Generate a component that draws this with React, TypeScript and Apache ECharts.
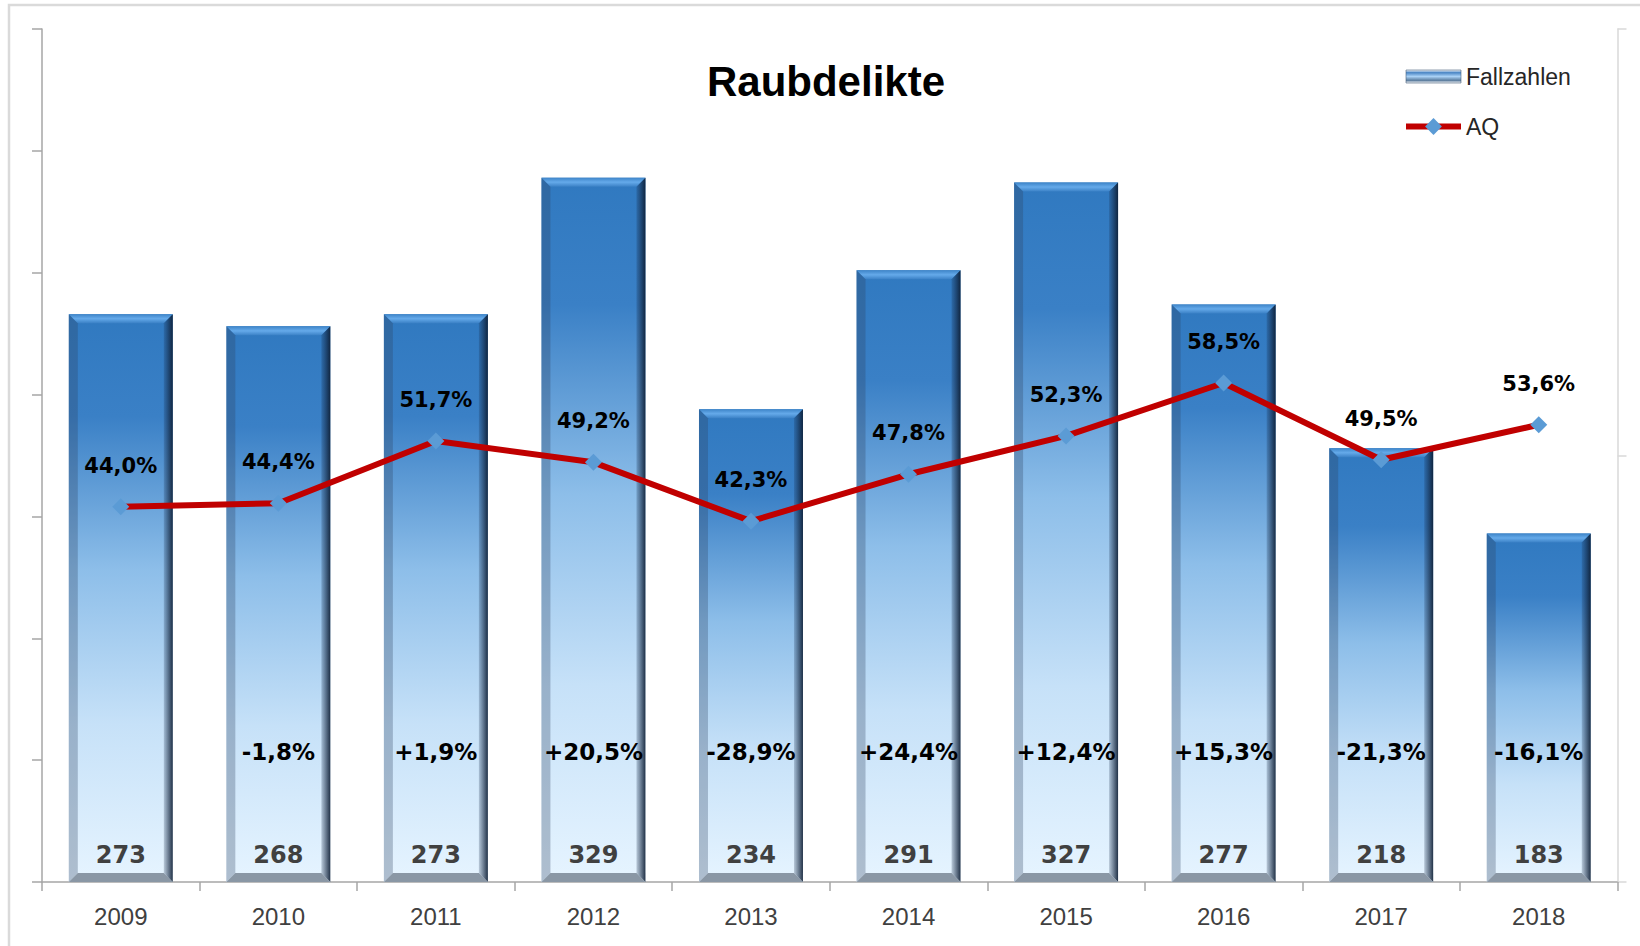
import React, { useEffect, useRef } from 'react';
import * as echarts from 'echarts';

const chartTitle = 'Raubdelikte';
const years = ['2009', '2010', '2011', '2012', '2013', '2014', '2015', '2016', '2017', '2018'];
const fallzahlen = [273, 268, 273, 329, 234, 291, 327, 277, 218, 183];
const aqPercent = [44.0, 44.4, 51.7, 49.2, 42.3, 47.8, 52.3, 58.5, 49.5, 53.6];
const changeLabels = ['', '-1,8%', '+1,9%', '+20,5%', '-28,9%', '+24,4%', '+12,4%', '+15,3%', '-21,3%', '-16,1%'];
const seriesNames = ['Fallzahlen', 'AQ'];

const fmtPct = (v: number) => v.toFixed(1).replace('.', ',') + '%';

const renderBar = (params: any, api: any) => {
  const i = api.value(0);
  const v = api.value(1);
  const p = api.coord([i, v]);
  const band = api.size([1, 0])[0];
  const w = band * 0.66;
  const cx = p[0];
  const x0 = cx - w / 2;
  const x1 = cx + w / 2;
  const yt = p[1];
  const yb = params.coordSys.y + params.coordSys.height;
  const h = yb - yt;
  const b = 9;
  const G = echarts.graphic.LinearGradient;
  return {
    type: 'group',
    children: [
      {
        type: 'rect',
        shape: { x: x0, y: yt, width: w, height: h },
        style: {
          fill: new G(0, 0, 0, 1, [
            { offset: 0, color: '#3079c0' },
            { offset: 0.18, color: '#3a80c6' },
            { offset: 0.45, color: '#8dbee9' },
            { offset: 0.72, color: '#c6e1f8' },
            { offset: 1, color: '#e6f4ff' },
          ]),
        },
      },
      {
        type: 'polygon',
        shape: { points: [[x0, yt], [x1, yt], [x1 - b, yt + b], [x0 + b, yt + b]] },
        style: {
          fill: new G(0, 0, 0, 1, [
            { offset: 0, color: '#3d84c8' },
            { offset: 0.5, color: '#65aaea' },
            { offset: 1, color: '#3b81c6' },
          ]),
        },
      },
      {
        type: 'polygon',
        shape: { points: [[x0, yt], [x0 + b, yt + b], [x0 + b, yb - b], [x0, yb]] },
        style: { fill: 'rgba(45,65,95,0.3)' },
      },
      {
        type: 'polygon',
        shape: { points: [[x1, yt], [x1, yb], [x1 - b, yb - b], [x1 - b, yt + b]] },
        style: {
          fill: new G(0, 0, 1, 0, [
            { offset: 0, color: 'rgba(20,40,70,0.2)' },
            { offset: 1, color: 'rgba(12,28,50,0.9)' },
          ]),
        },
      },
      {
        type: 'polygon',
        shape: { points: [[x0, yb], [x0 + b, yb - b], [x1 - b, yb - b], [x1, yb]] },
        style: { fill: 'rgba(115,128,142,0.8)' },
      },
      {
        type: 'text',
        x: cx,
        y: yb - 27,
        style: {
          text: String(v),
          fill: '#404040',
          fontFamily: 'DejaVu Sans',
          fontWeight: 'bold',
          fontSize: 24,
          align: 'center',
          verticalAlign: 'middle',
        },
      },
      {
        type: 'text',
        x: cx,
        y: yb - 130,
        style: {
          text: changeLabels[params.dataIndex],
          fill: '#000000',
          fontFamily: 'DejaVu Sans',
          fontWeight: 'bold',
          fontSize: 23,
          align: 'center',
          verticalAlign: 'middle',
        },
      },
    ],
  };
};

export default function App() {
  const ref = useRef<HTMLDivElement>(null);
  useEffect(() => {
    if (!ref.current) return;
    const chart = echarts.init(ref.current, undefined, { renderer: 'svg' });
    const axisGray = '#a6a6a6';
    chart.setOption({
      animation: false,
      backgroundColor: '#ffffff',
      title: {
        text: chartTitle,
        left: 826,
        top: 60,
        textAlign: 'center',
        padding: 0,
        textStyle: { fontFamily: 'Liberation Sans', fontWeight: 'bold', fontSize: 42, color: '#000000' },
      },
      legend: {
        orient: 'vertical',
        left: 1403,
        top: 65,
        itemWidth: 55,
        itemHeight: 21,
        itemGap: 27,
        padding: 0,
        lineStyle: { width: 6 },
        textStyle: { fontFamily: 'Liberation Sans', fontSize: 23, color: '#262626' },
        data: [
          {
            name: seriesNames[0],
            icon: 'path://M0,0M0,21M55,0M0,4L55,4L55,17L0,17Z',
            itemStyle: {
              color: new echarts.graphic.LinearGradient(0, 0, 0, 1, [
                { offset: 0, color: '#ffffff' },
                { offset: 0.2, color: '#4a86c5' },
                { offset: 0.5, color: '#a9d1f5' },
                { offset: 0.8, color: '#5a7c9e' },
                { offset: 1, color: '#ffffff' },
              ]),
              borderColor: '#47607a',
              borderWidth: 0.6,
            },
          },
          { name: seriesNames[1], lineStyle: { width: 6, color: '#c00000' } },
        ],
      },
      graphic: [
        {
          type: 'rect',
          shape: { x: 9, y: 5, width: 1700, height: 1000 },
          style: { fill: 'none', stroke: '#dadada', lineWidth: 2.5 },
          silent: true,
          z: -10,
        },
      ],
      grid: { left: 42, right: 22.5, top: 29, bottom: 64, containLabel: false },
      xAxis: {
        type: 'category',
        data: years,
        axisLine: { show: true, lineStyle: { color: axisGray, width: 1.5 } },
        axisTick: { show: true, length: 9, lineStyle: { color: axisGray, width: 1.5 } },
        axisLabel: { margin: 22, fontFamily: 'Liberation Sans', fontSize: 24, color: '#404040' },
        splitLine: { show: false },
      },
      yAxis: [
        { type: 'value', min: 40, max: 390, show: false },
        {
          type: 'value',
          min: 0,
          max: 100,
          interval: 50,
          position: 'right',
          axisLine: { show: true, lineStyle: { color: '#d9d9d9', width: 1.5 } },
          axisTick: { show: true, length: 9, lineStyle: { color: '#d9d9d9', width: 1.5 } },
          axisLabel: { show: false },
          splitLine: { show: false },
        },
        {
          type: 'value',
          min: 0,
          max: 7,
          interval: 1,
          position: 'left',
          axisLine: { show: true, lineStyle: { color: axisGray, width: 1.5 } },
          axisTick: { show: true, length: 10, lineStyle: { color: axisGray, width: 1.5 } },
          axisLabel: { show: false },
          splitLine: { show: false },
        },
      ],
      series: [
        {
          name: seriesNames[0],
          type: 'custom',
          yAxisIndex: 0,
          renderItem: renderBar,
          data: fallzahlen.map((v, i) => [i, v]),
          encode: { x: 0, y: 1 },
          itemStyle: { color: '#5b9bd5' },
          z: 2,
        },
        {
          name: seriesNames[1],
          type: 'line',
          yAxisIndex: 1,
          data: aqPercent,
          symbol: 'diamond',
          symbolSize: 17,
          itemStyle: { color: '#5b9bd5' },
          lineStyle: { color: '#c00000', width: 6 },
          label: {
            show: true,
            position: 'top',
            distance: 22,
            formatter: (p: any) => fmtPct(p.value),
            fontFamily: 'DejaVu Sans',
            fontWeight: 'bold',
            fontSize: 21,
            color: '#000000',
          },
          z: 4,
        },
      ],
    });
    return () => chart.dispose();
  }, []);
  return <div ref={ref} style={{ position: 'absolute', left: 0, top: 0, width: 1640, height: 946 }} />;
}
